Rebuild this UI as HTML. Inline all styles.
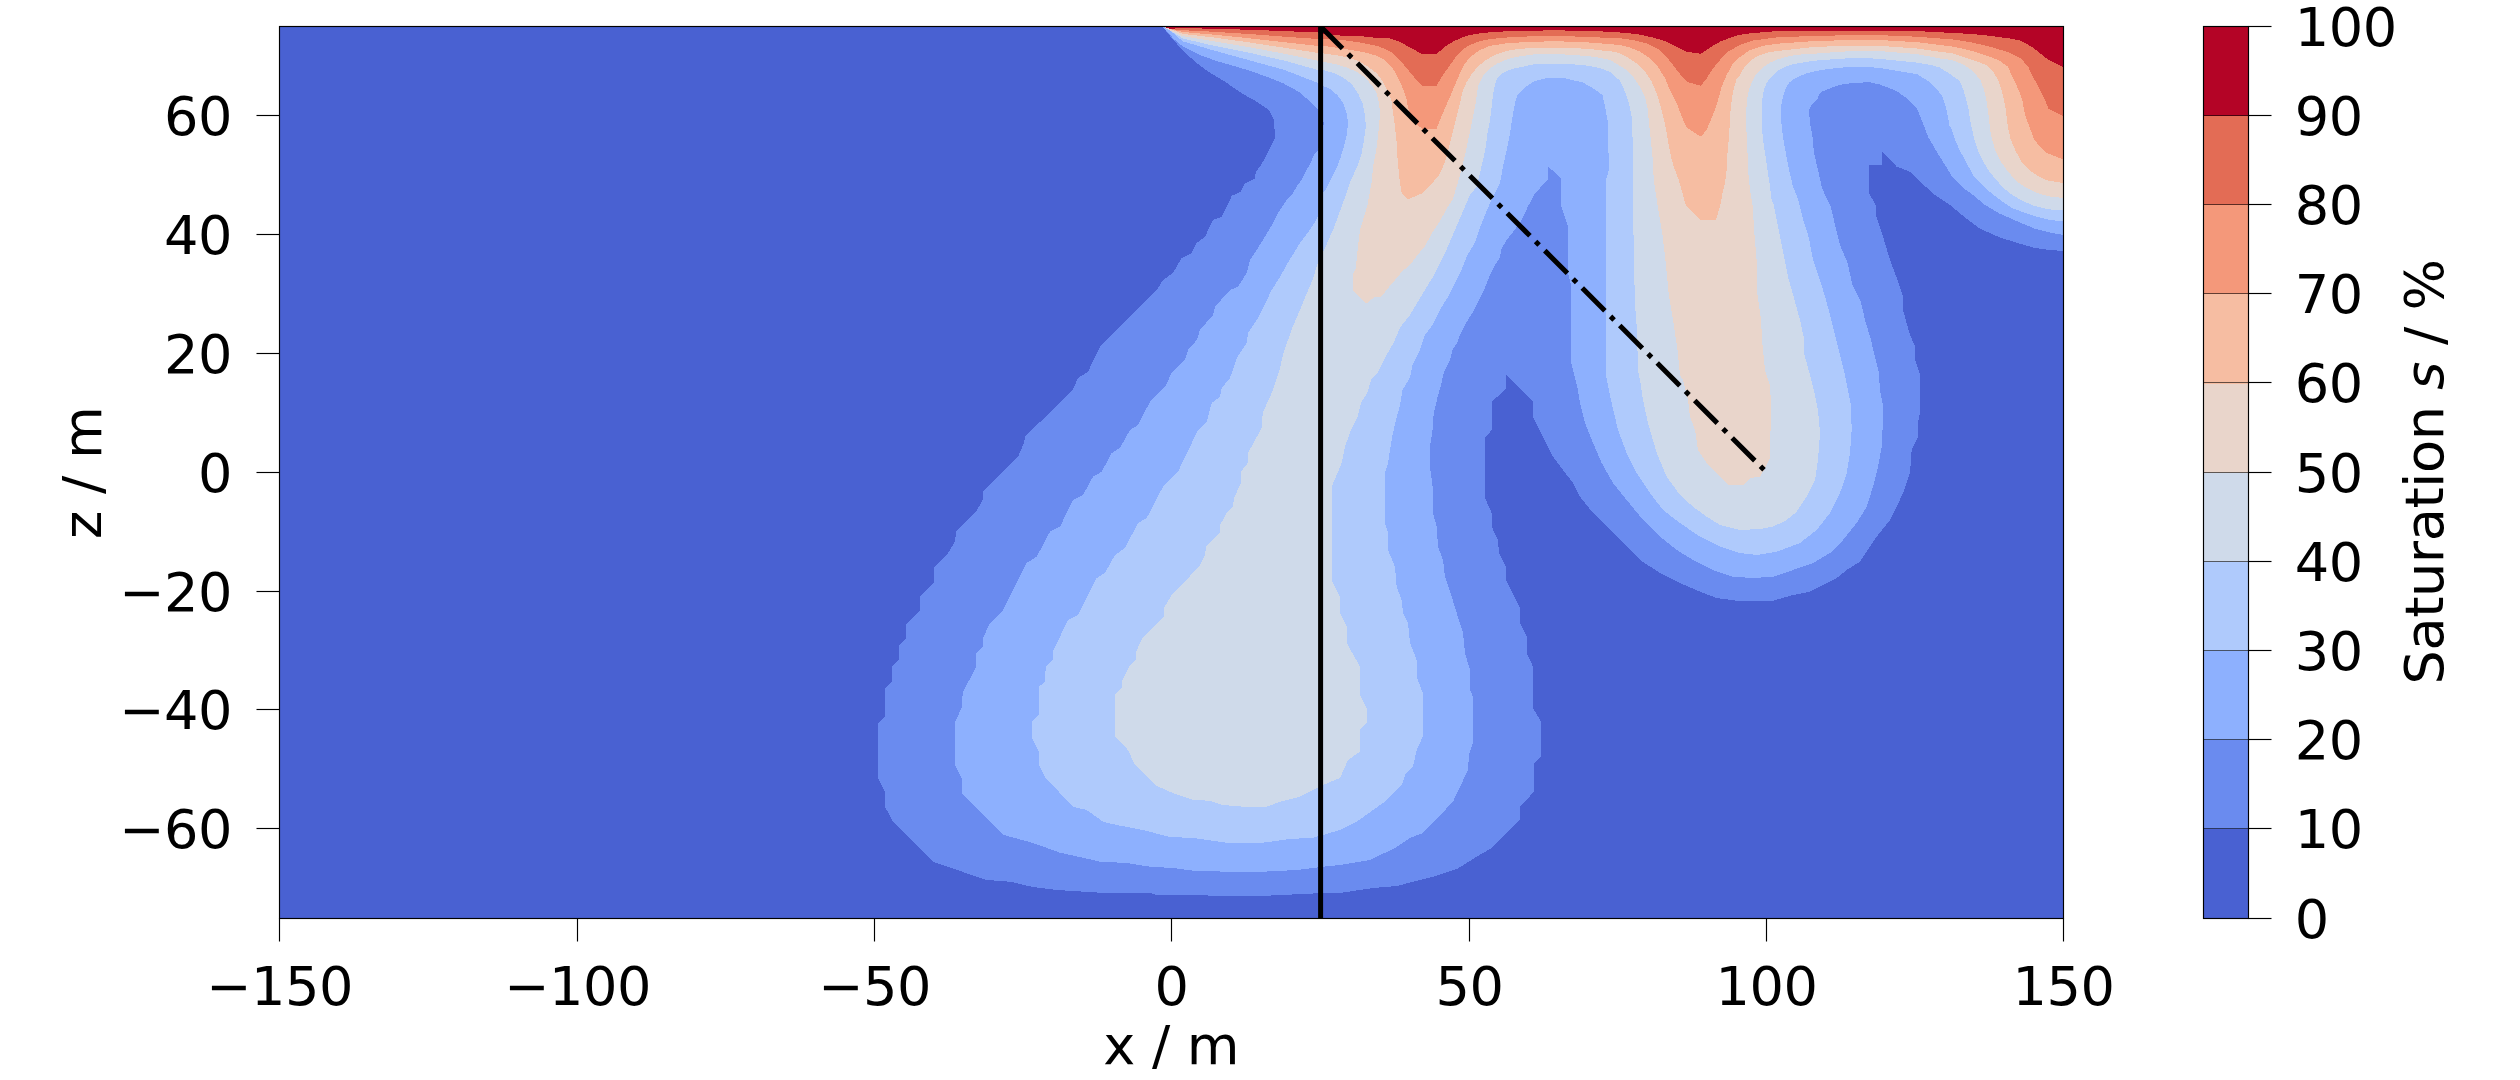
<!DOCTYPE html>
<html><head><meta charset="utf-8"><title>Saturation</title>
<style>html,body{margin:0;padding:0;background:#fff}svg{display:block}text{font-family:"DejaVu Sans","Liberation Sans",sans-serif;font-size:54.17px;fill:#000}</style></head><body>
<svg width="2520" height="1080" viewBox="0 0 2520 1080">
<rect x="0" y="0" width="2520" height="1080" fill="#fff"/>
<defs><clipPath id="ax"><rect x="279.5" y="26.5" width="1784.0" height="892.0"/></clipPath></defs>
<g clip-path="url(#ax)" shape-rendering="crispEdges">
<rect x="279.5" y="26.5" width="1784.0" height="892.0" fill="#4961d2"/>
<polygon fill="#6a8bef" points="1162.5,26.4 1171.7,38.3 1183.3,50.8 1195.0,61.7 1208.3,71.7 1225.0,81.7 1241.7,93.3 1256.7,101.7 1269.0,110.0 1274.0,120.0 1275.0,138.3 1270.0,148.3 1265.0,158.3 1260.0,166.7 1255.8,171.7 1255.0,178.3 1245.0,183.3 1240.8,191.7 1231.7,195.8 1230.0,200.0 1221.7,216.7 1213.0,220.0 1205.0,236.7 1196.7,243.0 1191.7,253.0 1181.7,258.0 1173.0,273.0 1163.0,280.0 1156.7,290.0 1100.0,346.7 1088.0,371.7 1078.0,378.0 1072.7,390.0 1025.0,436.7 1024.0,443.0 1018.0,456.7 983.0,491.7 982.7,500.0 977.0,510.0 956.0,531.7 955.0,541.7 948.0,553.0 934.0,568.0 934.0,583.0 920.0,596.7 920.0,610.0 906.0,625.0 906.0,638.0 899.0,645.0 899.0,660.0 892.0,666.7 892.0,681.7 885.0,688.0 885.0,716.7 878.0,723.0 878.0,778.0 885.0,791.7 885.0,806.7 892.0,820.0 933.0,861.7 976.7,876.7 986.7,880.0 1010.0,881.7 1033.0,887.0 1056.7,890.0 1100.0,892.7 1150.0,893.0 1156.7,895.0 1226.7,895.7 1266.7,895.7 1323.0,893.0 1340.0,893.0 1373.0,888.0 1396.7,886.0 1433.0,876.7 1456.7,869.0 1466.7,863.0 1476.7,856.7 1491.7,848.0 1520.0,820.0 1520.0,806.7 1534.0,791.7 1534.0,763.0 1541.0,756.7 1541.0,721.7 1533.0,708.0 1533.0,666.7 1526.7,653.0 1526.7,636.7 1520.0,623.0 1520.0,608.0 1506.0,580.0 1506.0,566.7 1499.0,553.0 1498.0,540.0 1491.7,526.7 1491.7,513.0 1485.0,498.0 1485.0,438.0 1491.7,430.0 1491.7,401.7 1506.0,389.0 1506.0,375.0 1533.0,401.7 1533.0,416.7 1553.0,456.7 1563.0,470.0 1573.0,483.0 1580.0,496.7 1593.0,513.0 1610.0,530.0 1626.7,546.7 1640.0,560.0 1660.0,573.0 1680.0,583.0 1700.0,591.7 1716.7,598.0 1736.7,600.7 1773.0,600.7 1793.0,595.0 1810.0,591.7 1826.7,583.0 1836.7,578.0 1846.7,570.0 1860.0,561.7 1870.0,546.7 1876.7,536.7 1890.0,520.0 1896.7,506.7 1903.0,493.0 1910.0,473.0 1911.7,450.0 1917.5,437.5 1917.5,425.0 1919.5,415.0 1919.5,372.5 1915.0,360.0 1914.5,345.0 1910.0,335.0 1903.0,310.0 1902.5,295.0 1897.5,280.0 1890.0,260.0 1882.5,235.0 1876.0,215.0 1875.5,205.0 1868.8,192.5 1869.0,165.0 1882.0,165.0 1882.0,151.7 1896.7,166.7 1910.0,171.7 1920.0,181.7 1935.0,195.0 1950.0,205.0 1965.0,217.5 1980.0,228.8 2000.0,237.5 2020.0,243.8 2035.0,248.0 2050.0,250.0 2063.5,251.0 2063.5,26.4"/>
<polygon fill="#8db0fe" points="1162.5,26.4 1173.3,38.5 1183.3,46.9 1200.0,55.0 1210.6,58.9 1220.0,62.0 1233.3,65.8 1250.0,70.8 1266.7,76.7 1283.3,83.3 1300.0,92.5 1310.0,101.7 1318.0,110.0 1324.0,123.0 1318.0,150.0 1314.0,155.0 1311.0,161.7 1306.7,170.0 1302.5,178.3 1296.7,186.7 1291.7,195.0 1286.7,200.0 1278.0,213.0 1273.0,223.0 1265.0,236.7 1256.7,250.0 1250.0,260.0 1246.7,273.0 1238.0,286.7 1230.0,290.0 1215.0,306.7 1213.0,315.0 1200.0,330.0 1196.7,340.0 1188.0,350.0 1185.0,360.0 1171.7,373.0 1165.0,386.7 1150.0,401.7 1138.0,425.0 1130.0,430.0 1120.0,448.0 1111.7,453.0 1101.7,471.7 1093.0,476.7 1083.0,495.0 1073.0,500.0 1060.0,526.7 1050.0,531.7 1036.7,556.7 1026.7,563.0 1008.0,600.0 1003.0,610.0 989.0,625.0 983.0,638.0 983.0,646.7 976.0,653.0 976.0,666.7 962.7,693.0 961.7,708.0 955.0,721.7 955.0,765.0 961.7,778.0 961.7,793.0 1004.0,835.0 1033.0,843.0 1060.0,852.7 1093.0,860.0 1100.0,861.7 1126.7,863.0 1150.0,866.7 1173.0,868.0 1193.0,870.7 1226.7,871.7 1263.0,871.7 1296.7,870.0 1323.0,866.7 1340.0,865.0 1370.0,860.0 1376.7,856.7 1395.0,848.0 1410.0,838.0 1423.0,833.0 1453.0,801.7 1468.0,770.0 1469.0,755.0 1473.0,743.0 1473.0,696.7 1470.0,690.0 1470.0,670.0 1465.0,653.0 1463.0,633.0 1456.7,613.0 1451.7,596.7 1445.0,576.7 1443.0,560.0 1438.0,546.7 1436.7,526.7 1433.0,513.0 1433.0,490.0 1430.0,466.7 1430.0,446.7 1432.5,430.0 1433.8,412.5 1437.5,397.5 1441.0,385.0 1443.8,372.5 1450.0,360.0 1452.5,350.0 1457.5,342.5 1460.0,335.0 1465.0,325.0 1472.5,312.5 1477.5,302.5 1485.0,287.5 1490.0,275.0 1495.0,265.0 1500.0,257.5 1501.0,250.0 1506.0,241.0 1512.5,232.5 1520.0,222.5 1527.5,207.5 1533.8,195.0 1548.0,179.0 1548.0,166.3 1560.8,178.0 1561.0,205.0 1567.5,225.0 1568.0,272.5 1571.0,285.0 1571.0,362.5 1577.5,387.5 1580.0,403.0 1585.0,423.0 1593.0,443.0 1601.7,463.0 1613.0,483.0 1626.7,500.0 1643.0,520.0 1660.0,536.7 1676.7,550.0 1693.0,560.0 1713.0,570.0 1733.0,576.7 1753.0,578.0 1773.0,576.7 1793.0,570.0 1813.0,563.0 1830.0,553.0 1843.0,540.0 1856.7,523.0 1866.7,506.7 1873.0,486.7 1878.0,466.7 1881.7,446.7 1882.5,430.0 1882.5,402.5 1880.0,390.0 1878.8,372.5 1875.0,357.5 1871.0,340.0 1865.0,320.0 1861.0,302.5 1852.5,285.0 1847.5,262.5 1840.0,245.0 1835.0,225.0 1831.0,207.5 1825.0,195.0 1821.7,186.7 1818.0,170.0 1814.0,153.0 1812.5,136.7 1810.0,123.0 1809.0,110.0 1812.0,104.0 1817.0,100.0 1818.5,95.6 1821.5,91.9 1829.0,88.9 1836.3,85.9 1843.7,84.0 1851.0,83.3 1858.5,83.0 1866.0,82.2 1869.6,82.0 1873.0,83.0 1880.0,84.6 1896.7,91.0 1909.0,100.0 1916.7,108.0 1921.7,120.0 1928.0,136.7 1936.7,151.7 1945.0,165.0 1953.0,178.0 1963.0,188.0 1970.0,192.5 1985.0,205.0 2000.0,213.8 2020.0,222.5 2035.0,228.8 2050.0,232.5 2063.5,235.0 2063.5,26.4"/>
<polygon fill="#afcafc" points="1162.5,26.4 1170.0,30.5 1182.8,41.3 1210.6,49.6 1247.6,59.8 1284.6,70.0 1318.0,83.0 1323.0,85.8 1331.7,90.0 1338.0,95.8 1343.0,103.0 1346.7,113.0 1348.0,123.0 1346.7,135.0 1344.0,146.7 1340.8,156.7 1336.7,168.0 1331.7,178.0 1326.7,188.0 1323.0,193.0 1318.0,216.5 1312.5,226.0 1306.0,235.0 1300.0,243.0 1292.0,256.0 1286.0,266.0 1280.0,277.0 1271.7,290.0 1258.0,318.0 1248.0,333.0 1246.7,343.0 1236.7,358.0 1230.0,378.0 1221.7,388.0 1220.0,396.7 1211.7,403.0 1206.7,421.7 1198.0,430.0 1178.0,471.7 1163.0,486.7 1146.7,518.0 1138.0,523.0 1125.0,548.0 1115.0,555.0 1105.0,573.0 1096.7,578.0 1078.0,615.0 1068.0,620.0 1052.7,651.7 1052.7,660.0 1045.7,666.7 1045.0,681.7 1039.0,686.7 1039.0,715.0 1032.0,721.7 1032.0,738.0 1039.0,751.7 1039.0,765.0 1045.7,778.0 1073.0,806.7 1086.7,810.0 1103.0,821.7 1116.7,825.0 1143.0,830.0 1170.0,837.0 1193.0,838.0 1226.7,842.7 1263.0,842.7 1290.0,839.0 1313.0,837.7 1323.0,835.0 1340.0,830.0 1356.7,821.7 1373.0,810.0 1383.0,803.0 1402.0,785.0 1405.0,775.0 1413.0,766.7 1416.7,750.0 1422.7,736.7 1422.7,693.0 1416.7,676.7 1416.7,660.0 1410.0,643.0 1408.0,623.0 1403.0,613.0 1401.7,600.0 1396.7,586.7 1395.0,566.7 1388.0,550.0 1388.0,533.0 1385.0,523.0 1385.0,473.0 1388.0,463.0 1390.0,450.0 1392.5,435.0 1396.0,420.0 1400.0,405.0 1402.5,390.0 1410.0,377.5 1412.5,365.0 1420.0,350.0 1425.0,335.0 1432.5,325.0 1440.0,310.0 1447.5,297.5 1455.0,282.5 1462.5,267.5 1467.5,255.0 1475.0,242.5 1480.0,227.5 1486.0,212.5 1492.5,197.5 1500.0,183.0 1503.0,166.7 1506.7,150.0 1510.0,133.0 1512.5,116.7 1515.0,103.0 1517.5,95.0 1523.0,89.0 1533.0,81.7 1546.7,78.0 1565.0,78.3 1583.0,82.5 1593.0,88.3 1602.5,95.0 1605.0,106.7 1608.0,123.0 1608.8,170.0 1606.0,180.0 1606.0,375.0 1608.8,390.0 1611.7,403.0 1618.0,430.0 1626.7,453.0 1636.7,473.0 1650.0,493.0 1663.0,510.0 1680.0,523.0 1700.0,536.7 1720.0,546.7 1740.0,553.0 1756.7,555.0 1776.7,551.7 1800.0,543.0 1816.7,530.0 1830.0,513.0 1840.0,493.0 1846.7,473.0 1850.0,453.0 1851.7,430.0 1851.0,405.0 1847.5,387.5 1843.8,370.0 1840.0,355.0 1835.0,335.0 1830.0,315.0 1826.0,300.0 1820.0,280.0 1812.5,257.5 1808.8,237.5 1802.5,217.5 1797.5,197.5 1793.0,186.7 1789.0,170.0 1785.8,153.0 1783.0,136.7 1781.0,120.0 1780.8,108.0 1782.2,100.0 1783.7,94.0 1785.9,88.0 1788.9,83.0 1793.3,79.3 1799.3,76.3 1806.7,73.3 1814.0,71.5 1821.5,70.0 1829.0,68.9 1843.7,67.4 1858.5,67.0 1873.0,67.4 1880.0,68.1 1917.0,74.1 1930.0,82.2 1937.4,89.6 1942.6,97.0 1945.6,105.9 1947.8,116.3 1949.3,125.2 1951.9,130.0 1955.0,139.6 1959.6,150.0 1964.8,159.6 1970.0,169.3 1974.4,177.4 1981.9,184.8 1989.3,191.5 1996.7,197.4 2004.0,202.6 2011.5,207.8 2022.5,212.0 2037.5,217.0 2050.0,220.0 2063.5,221.5 2063.5,26.4"/>
<polygon fill="#cfdaea" points="1162.5,26.4 1170.0,30.5 1182.8,38.5 1210.6,45.0 1247.6,52.4 1284.6,60.7 1318.0,70.0 1323.0,70.0 1335.0,73.3 1343.0,77.5 1351.7,84.0 1358.0,93.3 1362.5,103.0 1365.0,115.0 1365.8,126.7 1364.0,140.0 1361.7,153.0 1358.0,165.0 1351.0,180.0 1344.0,200.0 1334.0,227.5 1323.0,252.5 1318.0,262.5 1312.5,280.0 1305.0,297.5 1300.0,310.0 1293.0,326.0 1288.0,340.0 1283.0,355.0 1280.0,368.0 1273.0,390.0 1262.7,413.0 1261.7,428.0 1248.0,453.0 1247.7,463.0 1241.0,471.7 1241.0,483.0 1234.0,498.0 1233.0,506.7 1226.7,513.0 1220.0,525.0 1220.0,533.0 1206.0,546.7 1205.0,555.0 1199.0,566.7 1171.7,595.0 1164.0,608.0 1164.0,616.7 1143.0,637.0 1136.0,651.7 1136.0,660.0 1129.0,666.7 1121.7,681.7 1121.7,688.0 1115.0,695.0 1115.0,736.7 1128.0,750.0 1135.0,765.0 1156.7,786.0 1173.0,793.0 1193.0,800.0 1210.0,800.7 1223.0,805.0 1243.0,806.7 1266.7,806.7 1280.0,801.7 1300.0,796.7 1323.0,785.0 1340.0,778.0 1348.0,760.0 1360.0,751.7 1360.0,730.0 1366.7,723.0 1366.7,708.0 1360.0,695.0 1360.0,666.7 1346.7,643.0 1346.7,626.7 1340.0,613.0 1340.0,596.7 1331.7,580.0 1331.7,486.7 1341.7,463.0 1345.0,446.7 1351.0,430.0 1357.5,417.5 1361.0,402.5 1367.5,392.5 1371.0,380.0 1377.5,372.5 1385.0,357.5 1393.8,342.5 1400.0,327.5 1410.0,315.0 1417.5,302.5 1425.0,290.0 1432.5,277.5 1440.0,262.5 1447.5,247.5 1455.0,230.0 1462.5,212.5 1470.0,195.0 1476.7,186.7 1480.0,173.0 1483.0,160.0 1485.8,146.7 1487.5,133.0 1490.0,120.0 1491.7,106.7 1493.0,95.0 1495.0,85.0 1497.0,78.5 1503.0,73.0 1509.0,70.0 1515.6,68.1 1534.0,64.4 1552.6,63.7 1571.0,64.1 1589.6,65.9 1600.0,68.1 1610.0,72.0 1620.0,80.8 1625.0,91.7 1629.0,103.0 1631.7,116.7 1632.5,136.7 1633.0,200.0 1633.8,255.0 1635.0,305.0 1637.0,330.0 1638.0,370.0 1640.0,380.0 1643.0,400.0 1648.0,423.0 1656.7,453.0 1666.7,476.7 1680.0,495.0 1693.0,506.7 1706.7,516.7 1720.0,525.0 1740.0,530.0 1760.0,529.0 1773.0,526.7 1786.7,520.0 1796.7,511.7 1806.7,496.7 1815.0,480.0 1818.0,460.0 1820.0,433.0 1818.0,410.0 1815.0,395.0 1810.0,375.0 1804.5,355.0 1803.8,337.5 1800.0,320.0 1793.8,297.5 1788.8,280.0 1783.8,255.0 1778.8,230.0 1773.8,205.0 1771.7,200.0 1770.0,186.7 1767.5,170.0 1765.0,153.0 1763.0,140.0 1761.7,123.0 1761.7,106.7 1762.2,100.0 1763.0,94.0 1764.4,88.0 1766.7,83.0 1769.6,78.5 1773.3,74.8 1778.5,70.4 1784.4,67.0 1791.9,64.4 1799.3,63.0 1806.7,61.9 1814.0,60.7 1829.0,59.6 1851.0,58.1 1873.0,58.5 1880.0,58.9 1917.0,62.6 1930.0,64.8 1939.6,67.4 1950.0,74.1 1959.6,80.7 1963.3,89.6 1966.3,100.0 1968.5,108.9 1970.0,119.3 1972.2,130.0 1974.4,139.6 1978.0,150.7 1983.3,161.9 1989.3,171.5 1996.7,180.4 2004.0,188.5 2011.5,194.4 2022.6,201.0 2033.7,205.6 2048.5,209.3 2063.5,210.5 2063.5,26.4"/>
<polygon fill="#e9d5cb" points="1162.5,26.4 1170.0,30.5 1182.8,36.2 1210.6,40.8 1247.6,46.9 1284.6,53.8 1318.0,60.7 1323.0,61.7 1335.0,64.0 1346.7,67.5 1356.7,71.7 1365.0,77.5 1371.7,85.0 1376.7,93.3 1379.0,103.0 1380.0,113.0 1379.0,126.7 1377.5,140.0 1375.8,153.0 1373.0,166.7 1372.0,180.0 1367.5,205.0 1360.0,230.0 1357.0,255.0 1356.0,267.5 1352.5,275.0 1352.5,290.0 1366.0,303.8 1373.8,297.5 1381.0,297.0 1387.5,288.8 1395.0,280.0 1402.5,271.0 1410.0,265.0 1417.5,255.0 1425.0,246.0 1432.5,232.5 1440.0,221.0 1447.5,207.5 1452.5,200.0 1456.7,186.7 1460.0,175.0 1463.0,163.0 1465.8,151.7 1468.0,140.0 1470.8,128.0 1473.0,116.7 1475.8,103.0 1477.0,93.0 1478.5,85.2 1483.0,76.0 1489.0,69.0 1497.0,63.7 1506.0,59.8 1515.6,57.0 1534.0,54.4 1552.6,54.1 1571.0,54.7 1589.6,56.3 1600.0,57.8 1610.0,60.0 1620.0,65.8 1626.7,70.0 1633.0,76.7 1640.0,86.7 1645.0,96.7 1647.5,108.0 1649.0,123.0 1650.8,140.0 1652.5,156.7 1653.8,180.0 1657.5,205.0 1662.5,235.0 1666.0,265.0 1668.8,295.0 1673.8,325.0 1677.5,350.0 1680.0,375.0 1683.0,380.0 1688.0,400.0 1690.0,416.7 1695.0,430.0 1698.0,450.0 1706.7,463.0 1716.7,473.0 1728.0,485.0 1743.0,485.0 1750.0,478.0 1760.0,476.7 1764.0,470.0 1770.0,458.0 1771.0,405.0 1770.0,385.0 1765.0,370.0 1762.5,345.0 1761.0,320.0 1757.5,295.0 1757.0,265.0 1754.5,235.0 1752.5,205.0 1750.0,190.0 1748.0,170.0 1747.5,153.0 1746.7,136.7 1746.0,120.0 1746.7,103.0 1747.0,100.0 1748.0,94.0 1749.6,88.0 1751.9,82.2 1754.8,76.3 1758.5,71.9 1762.2,68.1 1766.0,65.2 1771.0,62.2 1777.0,59.6 1784.4,57.4 1791.9,55.6 1803.0,54.2 1814.0,53.7 1829.0,52.6 1851.0,51.1 1880.0,51.1 1917.0,54.1 1940.0,58.5 1952.2,60.0 1963.3,64.4 1973.0,71.1 1980.4,80.0 1984.0,89.6 1986.3,100.0 1987.8,110.4 1989.3,120.7 1990.0,130.0 1992.2,139.6 1995.2,150.0 2000.4,161.0 2007.8,171.5 2017.4,181.9 2026.3,187.8 2037.4,193.0 2048.5,196.3 2063.5,198.0 2063.5,26.4"/>
<polygon fill="#f6bda2" points="1162.5,26.4 1170.0,29.0 1182.8,33.9 1210.6,37.1 1247.6,42.2 1284.6,47.8 1318.0,52.9 1323.0,53.3 1335.0,55.0 1348.0,57.5 1360.0,61.7 1368.0,66.7 1376.7,73.3 1383.0,81.7 1388.0,91.7 1391.7,101.7 1393.0,113.0 1395.0,126.7 1396.7,143.0 1397.5,158.0 1399.0,175.0 1400.8,188.0 1401.7,193.0 1407.5,199.5 1423.0,193.0 1438.0,176.7 1443.0,166.7 1446.7,156.7 1449.0,146.7 1451.7,136.7 1454.0,126.7 1456.7,116.7 1460.0,103.0 1463.0,90.0 1466.7,82.0 1471.7,74.0 1478.5,65.9 1486.7,59.5 1497.0,54.1 1506.0,51.2 1515.6,49.3 1534.0,47.8 1552.6,47.6 1571.0,48.0 1589.6,48.9 1600.0,50.4 1610.0,51.0 1620.0,53.3 1628.0,57.5 1636.7,63.3 1645.0,71.7 1651.7,81.7 1656.7,93.3 1660.8,106.7 1664.0,120.0 1666.7,133.0 1669.0,146.7 1671.7,160.0 1675.0,170.0 1678.8,180.0 1686.0,206.0 1700.0,220.0 1716.0,220.0 1721.0,202.5 1722.5,193.0 1725.0,183.0 1726.7,170.0 1727.5,153.0 1729.0,136.7 1730.0,120.0 1730.8,106.7 1733.0,91.7 1736.7,78.3 1740.0,75.6 1742.0,70.4 1744.4,67.4 1747.4,63.7 1751.0,60.0 1754.8,57.8 1760.7,54.8 1766.0,53.0 1771.0,51.9 1777.0,51.1 1814.0,47.0 1851.0,45.6 1880.0,45.9 1917.0,48.5 1954.0,53.7 1972.6,60.0 1978.9,62.0 1987.8,65.9 1994.4,73.3 1998.9,82.2 2001.9,91.1 2004.0,100.0 2005.6,108.9 2006.7,117.8 2007.8,126.7 2010.7,139.6 2015.2,150.0 2021.0,161.0 2028.5,169.3 2037.4,175.9 2047.0,180.4 2056.0,181.9 2063.5,183.0 2063.5,26.4"/>
<polygon fill="#f4987a" points="1162.5,26.4 1170.0,29.0 1182.8,32.0 1210.6,34.4 1247.6,38.1 1284.6,42.2 1318.0,45.9 1323.0,45.8 1335.0,47.5 1351.7,50.0 1365.0,52.5 1376.7,55.8 1385.0,60.0 1391.7,67.0 1396.7,75.0 1400.8,83.3 1404.0,91.7 1406.7,100.0 1408.0,108.0 1410.0,113.0 1414.0,120.0 1418.0,125.8 1423.0,129.0 1436.7,128.5 1440.0,120.0 1445.0,108.0 1450.0,96.7 1455.0,85.0 1460.0,73.3 1465.0,63.3 1471.7,55.8 1480.0,50.0 1490.0,45.8 1506.7,43.3 1531.7,41.7 1556.7,41.3 1581.7,42.0 1600.0,43.3 1620.0,45.0 1630.0,47.5 1640.0,51.7 1650.0,58.3 1658.0,66.7 1665.0,78.3 1670.0,90.0 1676.7,103.0 1681.7,116.7 1686.7,127.5 1700.8,136.7 1706.7,130.0 1710.0,121.7 1715.0,110.0 1718.0,100.0 1721.7,86.7 1726.7,75.0 1733.0,63.3 1740.0,57.0 1750.0,50.0 1762.0,46.0 1777.0,43.7 1814.0,41.1 1851.0,40.0 1880.0,40.0 1917.0,42.2 1954.0,46.7 1972.6,51.1 1991.0,57.0 2000.0,61.0 2007.8,66.7 2011.5,74.8 2015.9,83.7 2019.6,92.6 2022.6,101.5 2024.0,110.4 2027.0,120.7 2030.7,130.0 2033.7,138.9 2039.6,146.3 2047.0,153.0 2056.0,156.7 2063.5,159.6 2063.5,26.4"/>
<polygon fill="#e36c55" points="1162.5,26.4 1170.0,29.0 1182.8,30.2 1210.6,31.6 1247.6,33.9 1284.6,36.7 1318.0,39.0 1323.0,39.0 1343.0,40.0 1360.0,42.5 1368.0,44.0 1376.7,45.8 1385.0,49.0 1393.0,53.3 1400.0,60.0 1406.7,68.3 1413.0,75.8 1418.0,81.7 1421.7,85.5 1436.7,85.5 1443.0,75.0 1450.0,65.0 1456.7,55.8 1463.0,49.0 1470.0,45.0 1478.0,41.7 1490.0,39.0 1506.7,37.5 1531.7,36.3 1556.7,36.0 1581.7,36.7 1600.0,37.5 1620.0,38.3 1633.0,40.0 1646.7,43.3 1658.0,49.0 1665.0,55.0 1671.7,63.3 1678.0,71.7 1686.7,81.7 1700.8,85.8 1706.7,78.3 1713.0,68.3 1720.0,60.0 1728.0,51.7 1740.0,44.8 1753.0,40.5 1777.0,37.4 1814.0,35.9 1851.0,35.2 1880.0,35.2 1917.0,36.7 1954.0,39.6 1972.6,42.6 1991.0,47.0 2009.6,52.6 2021.0,58.5 2028.5,67.4 2032.0,74.8 2036.7,83.7 2041.9,93.3 2045.6,101.5 2048.5,108.9 2056.0,112.6 2063.5,116.0 2063.5,26.4"/>
<polygon fill="#b40426" points="1162.5,26.4 1170.0,29.0 1182.8,27.8 1210.6,28.8 1247.6,29.7 1284.6,31.1 1318.0,32.5 1323.0,34.0 1343.0,35.8 1360.0,36.0 1376.7,38.0 1390.0,38.5 1400.0,42.0 1410.0,47.5 1421.7,53.8 1436.7,53.8 1445.0,46.7 1453.0,41.7 1461.7,37.5 1470.0,35.0 1481.7,33.0 1498.0,31.7 1523.0,30.8 1556.7,30.3 1600.0,31.3 1620.0,32.5 1636.7,34.0 1653.0,37.5 1666.7,41.7 1676.7,46.7 1686.7,51.7 1700.8,53.8 1710.0,47.5 1720.0,41.7 1733.0,36.7 1740.0,34.8 1750.0,33.3 1777.0,31.1 1814.0,30.7 1851.0,30.7 1880.0,31.0 1917.0,31.1 1954.0,33.0 1972.6,34.0 1991.0,35.9 2009.6,38.5 2020.0,40.4 2033.0,47.5 2041.0,54.0 2048.5,60.0 2056.0,63.7 2063.5,67.3 2063.5,26.4"/>
</g>
<g clip-path="url(#ax)">
<line x1="1320.6" y1="26.5" x2="1320.6" y2="918.5" stroke="#000" stroke-width="5"/>
<line x1="1320.6" y1="26.5" x2="1766.2" y2="472" stroke="#000" stroke-width="5" stroke-dasharray="32 8 5 8" stroke-dashoffset="1"/>
</g>
<rect x="279.5" y="26.5" width="1784.0" height="892.0" fill="none" stroke="#000" stroke-width="1.15"/>
<g stroke="#000" stroke-width="1.15"><line x1="279.5" y1="918.5" x2="279.5" y2="941.5"/><line x1="577.5" y1="918.5" x2="577.5" y2="941.5"/><line x1="874.5" y1="918.5" x2="874.5" y2="941.5"/><line x1="1171.5" y1="918.5" x2="1171.5" y2="941.5"/><line x1="1469.5" y1="918.5" x2="1469.5" y2="941.5"/><line x1="1766.5" y1="918.5" x2="1766.5" y2="941.5"/><line x1="2063.5" y1="918.5" x2="2063.5" y2="941.5"/><line x1="256.5" y1="828.5" x2="279.5" y2="828.5"/><line x1="256.5" y1="709.5" x2="279.5" y2="709.5"/><line x1="256.5" y1="591.5" x2="279.5" y2="591.5"/><line x1="256.5" y1="472.5" x2="279.5" y2="472.5"/><line x1="256.5" y1="353.5" x2="279.5" y2="353.5"/><line x1="256.5" y1="234.5" x2="279.5" y2="234.5"/><line x1="256.5" y1="115.5" x2="279.5" y2="115.5"/></g>
<text x="279.5" y="1004.5" text-anchor="middle" letter-spacing="-0.45">−150</text>
<text x="577.5" y="1004.5" text-anchor="middle" letter-spacing="-0.45">−100</text>
<text x="874.5" y="1004.5" text-anchor="middle" letter-spacing="-0.45">−50</text>
<text x="1171.5" y="1004.5" text-anchor="middle" letter-spacing="-0.45">0</text>
<text x="1469.5" y="1004.5" text-anchor="middle" letter-spacing="-0.45">50</text>
<text x="1766.5" y="1004.5" text-anchor="middle" letter-spacing="-0.45">100</text>
<text x="2063.5" y="1004.5" text-anchor="middle" letter-spacing="-0.45">150</text>
<text x="232.0" y="847.6" text-anchor="end" letter-spacing="-0.45">−60</text>
<text x="232.0" y="728.6" text-anchor="end" letter-spacing="-0.45">−40</text>
<text x="232.0" y="610.6" text-anchor="end" letter-spacing="-0.45">−20</text>
<text x="232.0" y="491.6" text-anchor="end" letter-spacing="-0.45">0</text>
<text x="232.0" y="372.6" text-anchor="end" letter-spacing="-0.45">20</text>
<text x="232.0" y="253.6" text-anchor="end" letter-spacing="-0.45">40</text>
<text x="232.0" y="134.6" text-anchor="end" letter-spacing="-0.45">60</text>
<text x="1171.3" y="1064.2" text-anchor="middle" letter-spacing="-0.3">x / m</text>
<text transform="translate(100.8,472.8) rotate(-90)" text-anchor="middle" letter-spacing="-0.3">z / m</text>
<g shape-rendering="crispEdges">
<rect x="2203.5" y="828.83" width="45.0" height="89.77" fill="#4961d2"/>
<rect x="2203.5" y="739.65" width="45.0" height="89.77" fill="#6a8bef"/>
<rect x="2203.5" y="650.48" width="45.0" height="89.77" fill="#8db0fe"/>
<rect x="2203.5" y="561.30" width="45.0" height="89.77" fill="#afcafc"/>
<rect x="2203.5" y="472.12" width="45.0" height="89.77" fill="#cfdaea"/>
<rect x="2203.5" y="382.95" width="45.0" height="89.77" fill="#e9d5cb"/>
<rect x="2203.5" y="293.77" width="45.0" height="89.77" fill="#f6bda2"/>
<rect x="2203.5" y="204.60" width="45.0" height="89.77" fill="#f4987a"/>
<rect x="2203.5" y="115.43" width="45.0" height="89.77" fill="#e36c55"/>
<rect x="2203.5" y="26.25" width="45.0" height="89.77" fill="#b40426"/>
</g>
<g stroke="#000" stroke-width="0.6"><line x1="2203.5" y1="828.5" x2="2248.5" y2="828.5"/><line x1="2203.5" y1="739.5" x2="2248.5" y2="739.5"/><line x1="2203.5" y1="650.5" x2="2248.5" y2="650.5"/><line x1="2203.5" y1="561.5" x2="2248.5" y2="561.5"/><line x1="2203.5" y1="472.5" x2="2248.5" y2="472.5"/><line x1="2203.5" y1="382.5" x2="2248.5" y2="382.5"/><line x1="2203.5" y1="293.5" x2="2248.5" y2="293.5"/><line x1="2203.5" y1="204.5" x2="2248.5" y2="204.5"/><line x1="2203.5" y1="115.5" x2="2248.5" y2="115.5"/></g>
<g stroke="#000" stroke-width="1.15"><line x1="2248.5" y1="918.5" x2="2271.5" y2="918.5"/><line x1="2248.5" y1="828.5" x2="2271.5" y2="828.5"/><line x1="2248.5" y1="739.5" x2="2271.5" y2="739.5"/><line x1="2248.5" y1="650.5" x2="2271.5" y2="650.5"/><line x1="2248.5" y1="561.5" x2="2271.5" y2="561.5"/><line x1="2248.5" y1="472.5" x2="2271.5" y2="472.5"/><line x1="2248.5" y1="382.5" x2="2271.5" y2="382.5"/><line x1="2248.5" y1="293.5" x2="2271.5" y2="293.5"/><line x1="2248.5" y1="204.5" x2="2271.5" y2="204.5"/><line x1="2248.5" y1="115.5" x2="2271.5" y2="115.5"/><line x1="2248.5" y1="26.5" x2="2271.5" y2="26.5"/></g>
<rect x="2203.5" y="26.5" width="45.0" height="892.0" fill="none" stroke="#000" stroke-width="1.15"/>
<text x="2294.8" y="937.6" letter-spacing="-0.45">0</text>
<text x="2294.8" y="847.6" letter-spacing="-0.45">10</text>
<text x="2294.8" y="758.6" letter-spacing="-0.45">20</text>
<text x="2294.8" y="669.6" letter-spacing="-0.45">30</text>
<text x="2294.8" y="580.6" letter-spacing="-0.45">40</text>
<text x="2294.8" y="491.6" letter-spacing="-0.45">50</text>
<text x="2294.8" y="401.6" letter-spacing="-0.45">60</text>
<text x="2294.8" y="312.6" letter-spacing="-0.45">70</text>
<text x="2294.8" y="223.6" letter-spacing="-0.45">80</text>
<text x="2294.8" y="134.6" letter-spacing="-0.45">90</text>
<text x="2294.8" y="45.6" letter-spacing="-0.45">100</text>
<text transform="translate(2442.6,472) rotate(-90)" text-anchor="middle" letter-spacing="-0.42">Saturation <tspan font-style="italic">s</tspan> / %</text>
</svg></body></html>
